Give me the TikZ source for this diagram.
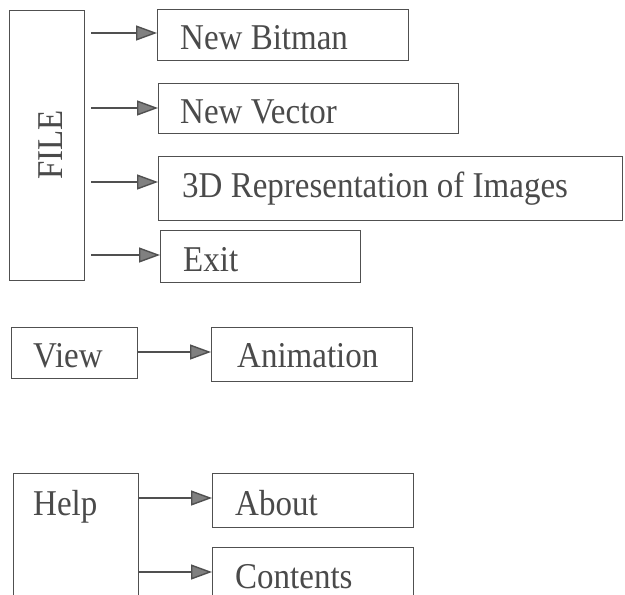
\documentclass[tikz,border=0pt]{standalone}
\usepackage{fontspec}
\usepackage{graphicx}
\setmainfont{Liberation Serif}
\usetikzlibrary{arrows.meta}
\definecolor{ink}{HTML}{4A4A4A}
\definecolor{edge}{HTML}{505050}
\definecolor{tipfill}{HTML}{808080}
\newcommand{\tall}[1]{\scalebox{1}[1.1]{#1}}
\tikzset{
  box/.style={draw=edge, line width=1.4pt, anchor=north west, inner sep=0pt},
  lbl/.style={anchor=base west, inner sep=0pt, text=ink, font=\fontsize{33}{40}\selectfont},
  link/.style={draw=edge, line width=1.4pt,
    -{Triangle[length=21pt,width=15pt,fill=tipfill]}},
}
\begin{document}
\begin{tikzpicture}[x=1pt,y=-1pt]
\useasboundingbox (0,0) rectangle (625,595);
\fill[white] (0,0) rectangle (625,595);
\clip (0,0) rectangle (625,595);

% FILE menu
\node[box, minimum width=75pt, minimum height=270pt] (file) at (9,10) {};
\node[lbl, anchor=center, rotate=90] (file-t) at (51,145) {\tall{FILE}};

\node[box, minimum width=251pt, minimum height=51pt] (bitmap) at (157,9) {};
\node[lbl] (bitmap-t) at (180,49) {\tall{New Bitman}};

\node[box, minimum width=300pt, minimum height=50pt] (vector) at (158,83) {};
\node[lbl] (vector-t) at (180,123) {\tall{New Vector}};

\node[box, minimum width=464pt, minimum height=64pt] (threed) at (158,156) {};
\node[lbl] (threed-t) at (182,197) {\tall{3D Representation of Images}};

\node[box, minimum width=200pt, minimum height=52pt] (exit) at (160,230) {};
\node[lbl] (exit-t) at (183,271) {\tall{Exit}};

\draw[link, shorten <=6pt] (file.east |- 0,33) -- (bitmap.west |- 0,33);
\draw[link, shorten <=6pt] (file.east |- 0,108) -- (vector.west |- 0,108);
\draw[link, shorten <=6pt] (file.east |- 0,182) -- (threed.west |- 0,182);
\draw[link, shorten <=6pt] (file.east |- 0,255) -- (exit.west |- 0,255);

% View menu
\node[box, minimum width=126pt, minimum height=51pt] (view) at (11,327) {};
\node[lbl] (view-t) at (33,367) {\tall{View}};

\node[box, minimum width=201pt, minimum height=54pt] (anim) at (211,327) {};
\node[lbl] (anim-t) at (237,367) {\tall{Animation}};

\draw[link] (view.east |- 0,352) -- (anim.west |- 0,352);

% Help menu
\node[box, minimum width=125pt, minimum height=140pt] (help) at (13,473) {};
\node[lbl] (help-t) at (33,515) {\tall{Help}};

\node[box, minimum width=201pt, minimum height=54pt] (about) at (212,473) {};
\node[lbl] (about-t) at (235,515) {\tall{About}};

\node[box, minimum width=201pt, minimum height=70pt] (contents) at (212,547) {};
\node[lbl] (contents-t) at (235,588) {\tall{Contents}};

\draw[link] (help.east |- 0,498) -- (about.west |- 0,498);
\draw[link] (help.east |- 0,572) -- (contents.west |- 0,572);
\end{tikzpicture}
\end{document}
